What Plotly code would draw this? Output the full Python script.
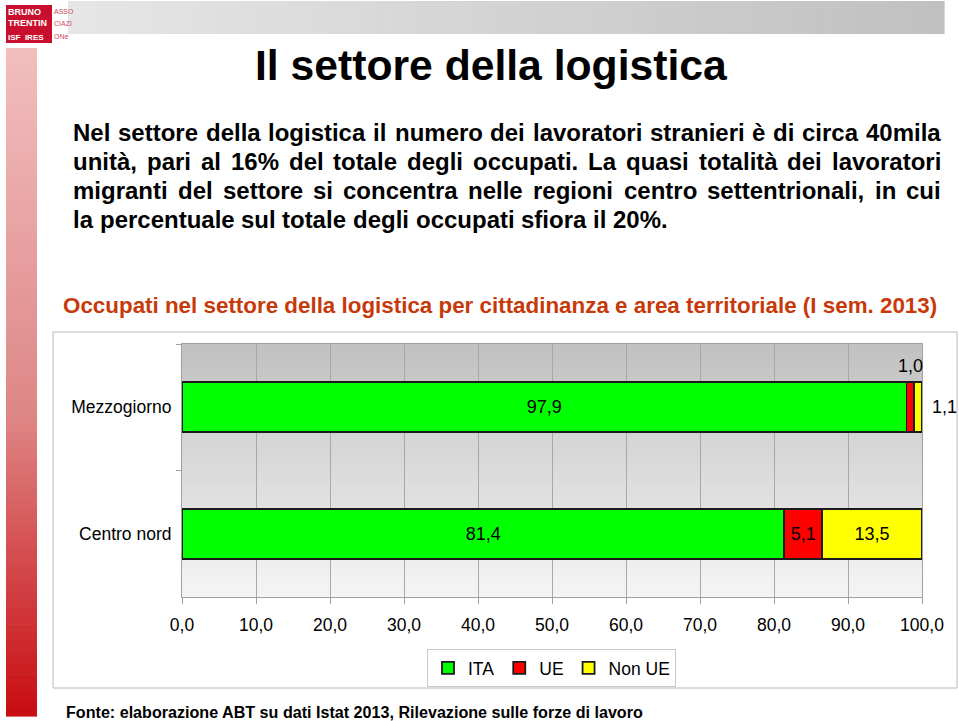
import plotly.graph_objects as go

# ---------------- data ----------------
categories = ["Mezzogiorno", "Centro nord"]
series_names = ["ITA", "UE", "Non UE"]
ita = [97.9, 81.4]
ue = [1.0, 5.1]
non_ue = [1.1, 13.5]
x_tick_values = [0, 10, 20, 30, 40, 50, 60, 70, 80, 90, 100]

title_text = "Il settore della logistica"
paragraph_lines = [
    "Nel settore della logistica il numero dei lavoratori stranieri è di circa 40mila",
    "unità, pari al 16% del totale degli occupati. La quasi totalità dei lavoratori",
    "migranti del settore si concentra nelle regioni centro settentrionali, in cui",
    "la percentuale sul totale degli occupati sfiora il 20%.",
]
subtitle_text = "Occupati nel settore della logistica per cittadinanza e area territoriale (I sem. 2013)"
source_text = "Fonte: elaborazione ABT su dati Istat 2013, Rilevazione sulle forze di lavoro"

# ---------------- styling ----------------
W, H = 959, 721
PL, PR, PT, PB = 182, 922, 344, 597
FONT = "Liberation Sans, Arial, Helvetica, sans-serif"
colors = ["#00FF00", "#FF0000", "#FFFF00"]


def px(x):
    return (x - PL) / (PR - PL)


def py(y):
    return (PB - y) / (PB - PT)


BOLD_W = {' ': 278, '!': 333, '%': 889, '(': 333, ')': 333, ',': 278, '-': 333, '.': 278, ':': 333,
          'A': 722, 'B': 722, 'C': 722, 'D': 722, 'E': 667, 'F': 611, 'G': 778, 'H': 722, 'I': 278,
          'J': 556, 'K': 722, 'L': 611, 'M': 833, 'N': 722, 'O': 778, 'P': 667, 'Q': 778, 'R': 722,
          'S': 667, 'T': 611, 'U': 722, 'V': 667, 'W': 944, 'X': 667, 'Y': 667, 'Z': 611,
          'a': 556, 'b': 611, 'c': 556, 'd': 611, 'e': 556, 'f': 333, 'g': 611, 'h': 611, 'i': 278,
          'j': 278, 'k': 556, 'l': 278, 'm': 889, 'n': 611, 'o': 611, 'p': 611, 'q': 611, 'r': 389,
          's': 556, 't': 333, 'u': 611, 'v': 556, 'w': 778, 'x': 556, 'y': 556, 'z': 500,
          'à': 556, 'è': 556, 'é': 556, 'ì': 278, 'ò': 611, 'ù': 611}


def em_bold(s):
    return sum(BOLD_W.get(c, 556) for c in s) / 1000.0


def fmt(v):
    return f"{v:.1f}".replace(".", ",")


def lerp(c0, c1, t):
    return "rgb(%d,%d,%d)" % tuple(round(a + (b - a) * t) for a, b in zip(c0, c1))


fig = go.Figure()
series_values = [ita, ue, non_ue]
for name, vals, col in zip(series_names, series_values, colors):
    fig.add_trace(go.Bar(
        y=categories, x=vals, name=name, orientation="h",
        marker=dict(color=col, line=dict(color="#1a1a1a", width=1.8)),
        text=[fmt(v) for v in vals],
        textposition=["inside" if v >= 3 else "none" for v in vals],
        insidetextanchor="middle", textangle=0,
        insidetextfont=dict(family=FONT, size=18, color="black"),
        hoverinfo="x+y+name",
    ))

annotations = []
shapes = []

# small-value labels, placed from the data
for i, cat in enumerate(categories):
    if ue[i] < 3:
        annotations.append(dict(x=ita[i] + ue[i] / 2, y=cat, xref="x", yref="y", text=fmt(ue[i]),
                                showarrow=False, yshift=41, font=dict(family=FONT, size=18, color="black")))
    if non_ue[i] < 3:
        annotations.append(dict(x=ita[i] + ue[i] + non_ue[i], y=cat, xref="x", yref="y", text=fmt(non_ue[i]),
                                showarrow=False, xanchor="left", xshift=8,
                                font=dict(family=FONT, size=18, color="black")))

# plot area vertical gradient
n = 50
for k in range(n):
    t = (k + 0.5) / n
    shapes.append(dict(type="rect", xref="x domain", yref="y domain", x0=0, x1=1,
                       y0=k / n, y1=(k + 1) / n + 0.002, line=dict(width=0),
                       fillcolor=lerp((245, 245, 245), (192, 192, 192), t), layer="below"))

# chart frame
shapes.append(dict(type="rect", xref="paper", yref="paper", x0=px(53), x1=px(957), y0=py(688), y1=py(332),
                   line=dict(color="#b8b8b8", width=1), fillcolor="rgba(0,0,0,0)", layer="below"))

# top grey band (horizontal gradient)
n = 60
x0b, x1b = 68, 944
for k in range(n):
    t = (k + 0.5) / n
    a = x0b + (x1b - x0b) * k / n
    b = x0b + (x1b - x0b) * (k + 1) / n + 0.6
    shapes.append(dict(type="rect", xref="paper", yref="paper", x0=px(a), x1=px(b), y0=py(34), y1=py(1),
                       line=dict(width=0), fillcolor=lerp((230, 230, 230), (192, 192, 192), t), layer="below"))

# left red band (vertical gradient)
n = 80
y0r, y1r = 48, 716
for k in range(n):
    t = (k + 0.5) / n
    if t < 0.55:
        c = lerp((242, 190, 190), (222, 134, 134), t / 0.55)
    else:
        c = lerp((222, 134, 134), (200, 12, 16), (t - 0.55) / 0.45)
    a = y0r + (y1r - y0r) * k / n
    b = y0r + (y1r - y0r) * (k + 1) / n + 0.6
    shapes.append(dict(type="rect", xref="paper", yref="paper", x0=px(6), x1=px(37), y0=py(b), y1=py(a),
                       line=dict(width=0), fillcolor=c, layer="below"))

# logo
shapes.append(dict(type="rect", xref="paper", yref="paper", x0=px(6), x1=px(52), y0=py(43), y1=py(5),
                   line=dict(width=0), fillcolor="#C8102E", layer="below"))
LOGO_FONT = "Liberation Sans Narrow, Liberation Sans, Arial, sans-serif"
for txt, yy, sz in [("BRUNO", 12, 9), ("TRENTIN", 23, 9), ("ISF  IRES", 37, 8)]:
    annotations.append(dict(x=px(6), y=py(yy), xref="paper", yref="paper", text="<b>%s</b>" % txt,
                            showarrow=False, xanchor="left", yanchor="middle",
                            font=dict(family=LOGO_FONT, size=sz, color="white")))
for txt, yy in [("ASSO", 11), ("CIAZI", 23), ("ONe", 36)]:
    annotations.append(dict(x=px(52), y=py(yy), xref="paper", yref="paper", text=txt,
                            showarrow=False, xanchor="left", yanchor="middle",
                            font=dict(family=LOGO_FONT, size=7, color="#D04858")))

# title
title_size = 472 / em_bold(title_text)
annotations.append(dict(x=px(491), y=py(65), xref="paper", yref="paper", text="<b>%s</b>" % title_text,
                        showarrow=False, xanchor="center", yanchor="middle",
                        font=dict(family=FONT, size=title_size, color="black")))

# justified paragraph
LX, RX = 72, 940
line_ys = [133, 162, 191, 219]
para_size = min((RX - LX) / em_bold(l) for l in paragraph_lines[:-1]) * 0.985
for li, (line, ly) in enumerate(zip(paragraph_lines, line_ys)):
    words = line.split(" ")
    widths = [em_bold(w) * para_size for w in words]
    if li < len(paragraph_lines) - 1:
        gap = (RX - LX - sum(widths)) / (len(words) - 1)
    else:
        gap = em_bold(" ") * para_size
    xpos = LX
    for w, wd in zip(words, widths):
        annotations.append(dict(x=px(xpos - 1), y=py(ly), xref="paper", yref="paper", text="<b>%s</b>" % w,
                                showarrow=False, xanchor="left", yanchor="middle",
                                font=dict(family=FONT, size=para_size, color="black")))
        xpos += wd + gap

# subtitle
sub_size = (937 - 62) / em_bold(subtitle_text)
annotations.append(dict(x=px(61), y=py(305), xref="paper", yref="paper", text="<b>%s</b>" % subtitle_text,
                        showarrow=False, xanchor="left", yanchor="middle",
                        font=dict(family=FONT, size=sub_size, color="#C8390A")))

# source
src_size = (643 - 65) / em_bold(source_text)
annotations.append(dict(x=px(64), y=py(712), xref="paper", yref="paper", text="<b>%s</b>" % source_text,
                        showarrow=False, xanchor="left", yanchor="middle",
                        font=dict(family=FONT, size=src_size, color="black")))

axis_line = "#a0a0a0"
fig.update_layout(
    width=W, height=H,
    margin=dict(l=PL, r=W - PR, t=PT, b=H - PB, pad=0),
    paper_bgcolor="white", plot_bgcolor="rgba(0,0,0,0)",
    barmode="stack", bargap=0.605,
    separators=",.",
    font=dict(family=FONT, size=17, color="black"),
    xaxis=dict(range=[0, 100], tickvals=x_tick_values, tickformat=".1f",
               showgrid=True, gridcolor="#a8a8a8", gridwidth=1, zeroline=False,
               ticks="outside", ticklen=6, tickcolor=axis_line,
               showline=True, linecolor=axis_line, linewidth=1, mirror=True,
               ticklabelstandoff=6, tickfont=dict(family=FONT, size=17.5, color="black"),
               fixedrange=True),
    yaxis=dict(categoryorder="array", categoryarray=categories, autorange="reversed",
               showgrid=False, zeroline=False, ticks="outside", tickson="boundaries",
               ticklen=5, tickcolor=axis_line, showline=True, linecolor=axis_line, linewidth=1, mirror=True,
               ticklabelstandoff=6, tickfont=dict(family=FONT, size=17.5, color="black"),
               fixedrange=True),
    legend=dict(orientation="h", x=px(551.5), xanchor="center", y=py(668), yanchor="middle",
                bordercolor="#c8c8c8", borderwidth=1, bgcolor="white", itemwidth=30,
                font=dict(family=FONT, size=17.5, color="black"), traceorder="normal",
                itemclick=False, itemdoubleclick=False),
    annotations=annotations,
    shapes=shapes,
    showlegend=True,
)

fig.write_html("out.html")
